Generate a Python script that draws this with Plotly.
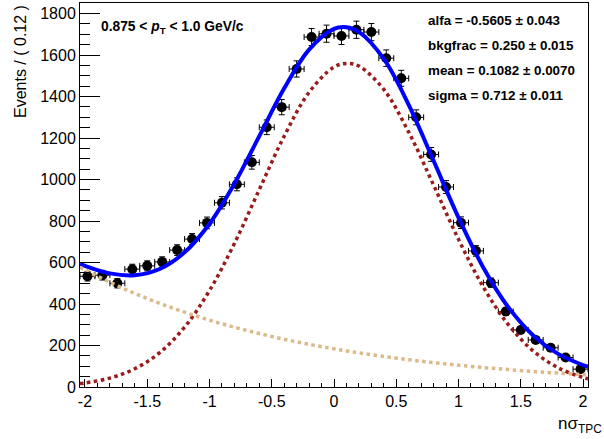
import numpy as np
import plotly.graph_objects as go

# ---- data ----
bin_centers = [-1.98, -1.86, -1.74, -1.62, -1.50, -1.38, -1.26, -1.14, -1.02, -0.90,
               -0.78, -0.66, -0.54, -0.42, -0.30, -0.18, -0.06, 0.06, 0.18, 0.30,
               0.42, 0.54, 0.66, 0.78, 0.90, 1.02, 1.14, 1.26, 1.38, 1.50,
               1.62, 1.74, 1.86, 1.98]
counts = [534, 539, 500, 568, 584, 603, 660, 713, 791, 888,
          977, 1083, 1252, 1349, 1533, 1687, 1703, 1692, 1722, 1711,
          1585, 1488, 1300, 1121, 964, 792, 656, 503, 364, 275,
          227, 189, 142, 86]
half_bin = 0.06

# fitted curves
curve_x = [-2.04, -2.0, -1.8, -1.6, -1.4, -1.2, -1.0, -0.8, -0.6, -0.4, -0.2,
           0.0, 0.1, 0.2, 0.4, 0.6, 0.8, 1.0, 1.2, 1.4, 1.6, 1.8, 2.0, 2.04]
signal_curve = [16.5, 19.5, 43.0, 87.8, 165.5, 288.6, 464.8, 691.8, 951.5, 1209.4, 1420.7,
                1542.2, 1559.9, 1547.0, 1434.2, 1228.7, 972.8, 711.7, 481.2, 300.7, 173.6,
                92.6, 45.7, 39.3]
background_curve = [577.3, 564.5, 504.6, 451.1, 403.3, 360.5, 322.3, 288.1, 257.6, 230.2, 205.8,
                    184.0, 174.0, 164.5, 147.1, 131.5, 117.5, 105.1, 93.9, 84.0, 75.0,
                    67.1, 60.0, 58.6]
total_curve = [s + b for s, b in zip(signal_curve, background_curve)]

x_tick_vals = [-2, -1.5, -1, -0.5, 0, 0.5, 1, 1.5, 2]
x_tick_text = ["-2", "-1.5", "-1", "-0.5", "0", "0.5", "1", "1.5", "2"]
y_tick_vals = [0, 200, 400, 600, 800, 1000, 1200, 1400, 1600, 1800]
y_tick_text = [str(v) for v in y_tick_vals]

param_lines = ["alfa = -0.5605 ± 0.043",
               "bkgfrac = 0.250 ± 0.015",
               "mean = 0.1082 ± 0.0070",
               "sigma = 0.712 ± 0.011"]

FONT = "Liberation Sans, Arial, Helvetica, sans-serif"

fig = go.Figure()

fig.add_trace(go.Scatter(
    x=bin_centers, y=counts, mode="markers",
    marker=dict(color="black", size=10),
    error_y=dict(type="data", array=np.sqrt(counts), color="black", thickness=1, width=3),
    error_x=dict(type="constant", value=half_bin, color="black", thickness=1, width=3),
    showlegend=False, hoverinfo="skip"))

fig.add_trace(go.Scatter(
    x=curve_x, y=total_curve, mode="lines", line=dict(color="#0000ff", width=4, shape="spline"),
    showlegend=False, hoverinfo="skip"))
fig.add_trace(go.Scatter(
    x=curve_x, y=signal_curve, mode="lines",
    line=dict(color="#9a1b1b", width=3.5, dash="dot", shape="spline"),
    showlegend=False, hoverinfo="skip"))
fig.add_trace(go.Scatter(
    x=curve_x, y=background_curve, mode="lines",
    line=dict(color="#dcb98a", width=3.5, dash="dot", shape="spline"),
    showlegend=False, hoverinfo="skip"))

fig.update_layout(
    width=604, height=439,
    margin=dict(l=80, r=16, t=3, b=52),
    paper_bgcolor="white", plot_bgcolor="white",
    font=dict(family=FONT, color="black"),
    xaxis=dict(range=[-2.04, 2.04], tickmode="array", tickvals=x_tick_vals, ticktext=x_tick_text,
               ticks="inside", ticklen=8, tickwidth=1, tickcolor="black",
               showline=True, linecolor="black", linewidth=1, mirror=True,
               showgrid=False, zeroline=False, tickfont=dict(size=16, family=FONT),
               minor=dict(tickmode="linear", tick0=0, dtick=0.1, ticks="inside",
                          ticklen=4, tickcolor="black", showgrid=False)),
    yaxis=dict(range=[0, 1851], tickmode="array", tickvals=y_tick_vals, ticktext=y_tick_text,
               ticks="inside", ticklen=20, tickwidth=1, tickcolor="black",
               showline=True, linecolor="black", linewidth=1, mirror=True,
               showgrid=False, zeroline=False, tickfont=dict(size=16, family=FONT),
               minor=dict(tickmode="linear", tick0=0, dtick=50, ticks="inside",
                          ticklen=10, tickcolor="black", showgrid=False)),
)

PW, PH = 508.0, 384.0  # plot area size in px
def px_x(px):
    return (px - 80) / PW
def px_y(py):
    return (387 - py) / PH

fig.add_annotation(text="<b>0.875 &lt; <i>p</i><sub>T</sub> &lt; 1.0 GeV/c</b>",
                   xref="paper", yref="paper", x=px_x(99), y=px_y(28),
                   xanchor="left", yanchor="middle", showarrow=False,
                   font=dict(size=13.8, family=FONT, color="black"))

for i, line in enumerate(param_lines):
    fig.add_annotation(text="<b>" + line + "</b>", xref="paper", yref="paper",
                       x=px_x(426), y=px_y(20 + 25.3 * i), xanchor="left", yanchor="middle",
                       showarrow=False, font=dict(size=13.4, family=FONT, color="black"))

fig.add_annotation(text="Events / ( 0.12 )", xref="paper", yref="paper",
                   x=px_x(20), y=px_y(62), xanchor="center", yanchor="middle",
                   textangle=-90, showarrow=False, font=dict(size=16, family=FONT, color="black"))

fig.add_annotation(text="nσ<sub>TPC</sub>", xref="paper", yref="paper",
                   x=px_x(604), y=px_y(425), xanchor="right", yanchor="middle",
                   showarrow=False, font=dict(size=17, family=FONT, color="black"))

fig.write_html("out.html", config={"displayModeBar": False},
               post_script="document.body.style.margin='0px';document.body.style.overflow='hidden';")
